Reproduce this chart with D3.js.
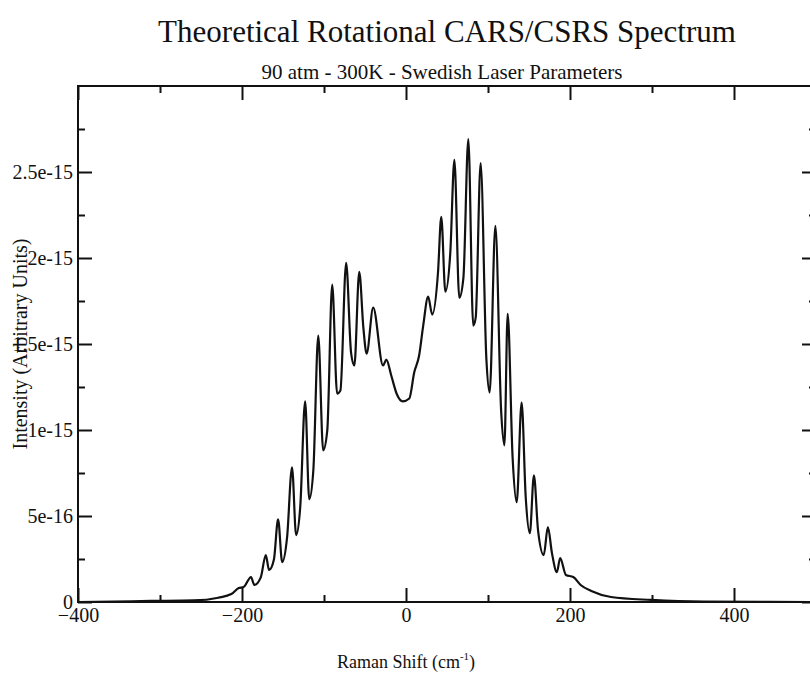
<!DOCTYPE html>
<html>
<head>
<meta charset="utf-8">
<script src="https://cdn.jsdelivr.net/npm/d3@7"></script>
<style>
  html, body { margin: 0; padding: 0; background: #fff; }
  svg { display: block; }
  text { font-family: "Liberation Serif", "Times New Roman", serif; fill: #111; }
</style>
</head>
<body>
<svg id="chart" width="810" height="676"></svg>
<script>
// Raman shift (cm-1) and intensity
var ramanShift = [-400, -311, -259, -229, -213, -204, -198, -189, -185, -177, -171, -167, -161, -156, -151,
    -145, -139, -134, -129, -123, -118, -113, -107, -101, -96, -90, -84, -80, -73, -67, -63, -57, -52, -48,
    -40, -28, -24, -18, -11, -4, 4, 10, 16, 21, 27, 32, 39, 43, 48, 54, 59, 65, 70, 76, 82, 85, 91, 98, 102,
    109, 116, 120, 124, 130, 135, 141, 146, 151, 156, 161, 168, 173, 178, 184, 188, 195, 204, 213, 226, 250,
    299, 363, 500];

var intensity = [0, 0.006e-15, 0.009e-15, 0.025e-15, 0.046e-15, 0.081e-15, 0.087e-15, 0.145e-15, 0.099e-15,
    0.145e-15, 0.273e-15, 0.186e-15, 0.249e-15, 0.481e-15, 0.232e-15, 0.377e-15, 0.783e-15, 0.389e-15,
    0.551e-15, 1.166e-15, 0.597e-15, 0.766e-15, 1.549e-15, 0.882e-15, 0.998e-15, 1.845e-15, 1.212e-15,
    1.230e-15, 1.972e-15, 1.450e-15, 1.375e-15, 1.920e-15, 1.595e-15, 1.444e-15, 1.711e-15, 1.375e-15,
    1.409e-15, 1.317e-15, 1.206e-15, 1.166e-15, 1.183e-15, 1.334e-15, 1.433e-15, 1.607e-15, 1.775e-15,
    1.671e-15, 1.914e-15, 2.239e-15, 1.804e-15, 2.030e-15, 2.570e-15, 1.769e-15, 1.885e-15, 2.691e-15,
    1.607e-15, 1.653e-15, 2.552e-15, 1.415e-15, 1.218e-15, 2.187e-15, 1.114e-15, 0.911e-15, 1.676e-15,
    0.841e-15, 0.580e-15, 1.160e-15, 0.609e-15, 0.400e-15, 0.737e-15, 0.418e-15, 0.273e-15, 0.435e-15,
    0.284e-15, 0.174e-15, 0.255e-15, 0.157e-15, 0.145e-15, 0.099e-15, 0.064e-15, 0.029e-15, 0.012e-15,
    0.002e-15, 0];

var xTicks = [-400, -200, 0, 200, 400];
var xMinorTicks = [-300, -100, 100, 300];
var yTicks = [0, 5e-16, 1e-15, 1.5e-15, 2e-15, 2.5e-15];
var yTickLabels = ["0", "5e-16", "1e-15", "1.5e-15", "2e-15", "2.5e-15"];
var yMinorTicks = [2.5e-16, 7.5e-16, 1.25e-15, 1.75e-15, 2.25e-15, 2.75e-15];

var titleText = "Theoretical Rotational CARS/CSRS Spectrum";
var subtitleText = "90 atm - 300K - Swedish Laser Parameters";

var svg = d3.select("#chart");
var margin = {left: 78, top: 86, right: 816, bottom: 602};

var x = d3.scaleLinear().domain([-400, 500]).range([margin.left, margin.right]);
var y = d3.scaleLinear().domain([0, 3e-15]).range([margin.bottom, margin.top]);

var points = ramanShift.map(function(d, i) { return {x: d, y: intensity[i]}; });

svg.append("clipPath").attr("id", "plotclip")
    .append("rect")
    .attr("x", margin.left).attr("y", margin.top)
    .attr("width", margin.right - margin.left).attr("height", margin.bottom - margin.top);

// minor ticks first, then majors
function styleAxis(g) {
    g.select(".domain").remove();
    g.selectAll("line").attr("stroke", "#111").attr("stroke-width", 2);
    g.selectAll("text").attr("font-size", 20).attr("fill", "#111")
        .style("font-family", "'Liberation Serif', 'Times New Roman', serif");
}

svg.append("g").attr("transform", "translate(0," + margin.bottom + ")")
    .call(d3.axisBottom(x).tickValues(xMinorTicks).tickSize(-7).tickFormat(""))
    .call(styleAxis);
svg.append("g").attr("transform", "translate(0," + margin.bottom + ")")
    .call(d3.axisBottom(x).tickValues(xTicks).tickSize(-14).tickPadding(6).tickFormat(d3.format("d")))
    .call(styleAxis);
svg.append("g").attr("transform", "translate(0," + margin.top + ")")
    .call(d3.axisTop(x).tickValues(xMinorTicks).tickSize(-7).tickFormat(""))
    .call(styleAxis);
svg.append("g").attr("transform", "translate(0," + margin.top + ")")
    .call(d3.axisTop(x).tickValues(xTicks).tickSize(-14).tickFormat(""))
    .call(styleAxis);

svg.append("g").attr("transform", "translate(" + margin.left + ",0)")
    .call(d3.axisLeft(y).tickValues(yMinorTicks).tickSize(-7).tickFormat(""))
    .call(styleAxis);
svg.append("g").attr("transform", "translate(" + margin.left + ",0)")
    .call(d3.axisLeft(y).tickValues(yTicks).tickSize(-14).tickPadding(5)
        .tickFormat(function(d, i) { return yTickLabels[i]; }))
    .call(styleAxis);
svg.append("g").attr("transform", "translate(" + margin.right + ",0)")
    .call(d3.axisRight(y).tickValues(yMinorTicks).tickSize(-7).tickFormat(""))
    .call(styleAxis);
svg.append("g").attr("transform", "translate(" + margin.right + ",0)")
    .call(d3.axisRight(y).tickValues(yTicks).tickSize(-14).tickFormat(""))
    .call(styleAxis);

// frame
svg.append("rect")
    .attr("x", margin.left).attr("y", margin.top)
    .attr("width", margin.right - margin.left).attr("height", margin.bottom - margin.top)
    .attr("fill", "none").attr("stroke", "#111").attr("stroke-width", 2);

// spectrum
var line = d3.line()
    .x(function(d) { return x(d.x); })
    .y(function(d) { return y(d.y); })
    .curve(d3.curveMonotoneX);

svg.append("path")
    .datum(points)
    .attr("clip-path", "url(#plotclip)")
    .attr("d", line)
    .attr("fill", "none")
    .attr("stroke", "#111")
    .attr("stroke-width", 2.2)
    .attr("stroke-linejoin", "round");

// titles
var cx = (margin.left + margin.right) / 2;
svg.append("text").attr("x", cx).attr("y", 42)
    .attr("text-anchor", "middle").attr("font-size", 31)
    .text(titleText);
svg.append("text").attr("x", cx - 5).attr("y", 79)
    .attr("text-anchor", "middle").attr("font-size", 21)
    .text(subtitleText);

var xlab = svg.append("text").attr("x", x(0)).attr("y", 668)
    .attr("text-anchor", "middle").attr("font-size", 18);
xlab.append("tspan").text("Raman Shift (cm");
xlab.append("tspan").attr("font-size", 11).attr("dy", -8).text("-1");
xlab.append("tspan").attr("dy", 8).text(")");

svg.append("text")
    .attr("transform", "translate(27," + ((margin.top + margin.bottom) / 2) + ") rotate(-90)")
    .attr("text-anchor", "middle").attr("font-size", 20)
    .text("Intensity (Arbitrary Units)");
</script>
</body>
</html>
